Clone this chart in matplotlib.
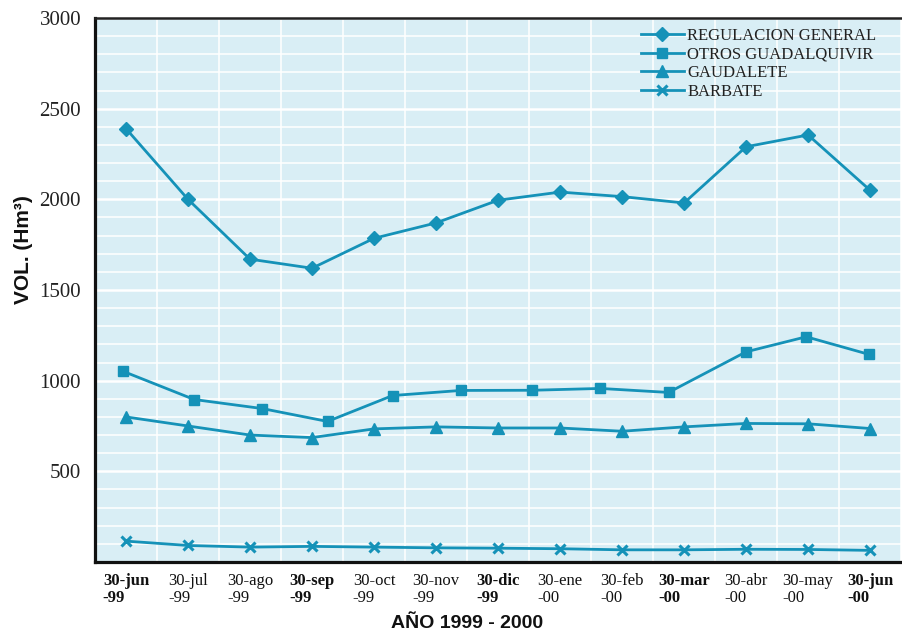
import matplotlib
matplotlib.use('Agg')
import matplotlib.pyplot as plt
from matplotlib.ticker import MultipleLocator, FixedLocator

# fechas (fin de mes)
meses = ['30-jun\n-99', '30-jul\n-99', '30-ago\n-99', '30-sep\n-99', '30-oct\n-99',
         '30-nov\n-99', '30-dic\n-99', '30-ene\n-00', '30-feb\n-00', '30-mar\n-00',
         '30-abr\n-00', '30-may\n-00', '30-jun\n-00']
negrita = [0, 3, 6, 9, 12]

regulacion = [2390, 2000, 1670, 1620, 1785, 1870, 1995, 2040, 2015, 1980, 2290, 2355, 2050]
gaudalete = [800, 750, 700, 686, 734, 745, 739, 739, 721, 745, 764, 762, 736]
barbate = [115, 91, 82, 86, 82, 78, 76, 73, 67, 67, 70, 69, 64]
# otros guadalquivir: 12 puntos, no alineados con los meses
x_otros = [-0.05, 1.1, 2.2, 3.25, 4.3, 5.4, 6.55, 7.65, 8.75, 10.0, 10.97, 11.98]
otros = [1052, 896, 846, 775, 918, 946, 947, 957, 935, 1159, 1242, 1145]

azul = '#1592b8'
fondo = '#d9eef5'

fig = plt.figure(figsize=(9.02, 6.32), dpi=100)
ax = fig.add_axes([0.1053, 0.1108, 0.8937, 0.8607])
ax.set_facecolor(fondo)

x = list(range(len(meses)))
ax.plot(x, regulacion, color=azul, lw=2, marker='D', ms=7.5, label='REGULACION GENERAL')
ax.plot(x_otros, otros, color=azul, lw=2, marker='s', ms=7, label='OTROS GUADALQUIVIR')
ax.plot(x, gaudalete, color=azul, lw=2, marker='^', ms=8.5, label='GAUDALETE')
ax.plot(x, barbate, color=azul, lw=2, marker='x', ms=7, mew=2.2, label='BARBATE')

ax.set_xlim(-0.5, 12.5)
ax.set_ylim(0, 3000)

ax.yaxis.set_major_locator(FixedLocator([500, 1000, 1500, 2000, 2500, 3000]))
ax.yaxis.set_minor_locator(MultipleLocator(100))
ax.set_xticks(x)
ax.set_xticks([i + 0.5 for i in range(-1, 13)], minor=True)
ax.grid(which='minor', color='white', lw=1.1)
ax.grid(which='major', axis='y', color='white', lw=1.8)
ax.set_axisbelow(True)
ax.tick_params(which='both', length=0)

ax.set_yticklabels(['500', '1000', '1500', '2000', '2500', '3000'],
                   fontfamily='Liberation Serif', fontsize=15, color='#222222')
ax.set_xticklabels(meses, fontfamily='Liberation Serif', fontsize=12,
                   color='#111111', multialignment='left', linespacing=1.05)
for i, t in enumerate(ax.get_xticklabels()):
    if i in negrita:
        t.set_fontweight('bold')
ax.tick_params(axis='x', pad=8)
ax.tick_params(axis='y', pad=10)

for s in ['left', 'bottom']:
    ax.spines[s].set_linewidth(2.3)
    ax.spines[s].set_color('#111111')
ax.spines['top'].set_linewidth(1.8)
ax.spines['top'].set_color('#222222')
ax.spines['right'].set_visible(False)

ax.set_ylabel('VOL. (Hm³)', fontfamily='Liberation Sans', fontweight='bold',
              fontsize=15, color='#111111')
ax.yaxis.set_label_coords(-0.077, 0.575)
ax.set_xlabel('AÑO 1999 - 2000', fontfamily='Liberation Sans', fontweight='bold',
              fontsize=14, color='#111111')
ax.xaxis.set_label_coords(0.4615, -0.097)

ax.legend(loc='upper right', bbox_to_anchor=(0.982, 1.0), frameon=False,
          prop={'family': 'Liberation Serif', 'size': 12}, handlelength=2.6,
          handletextpad=0.2, labelspacing=0.15, borderpad=0.1, labelcolor='#222222')

fig.savefig('out.png', dpi=100)
